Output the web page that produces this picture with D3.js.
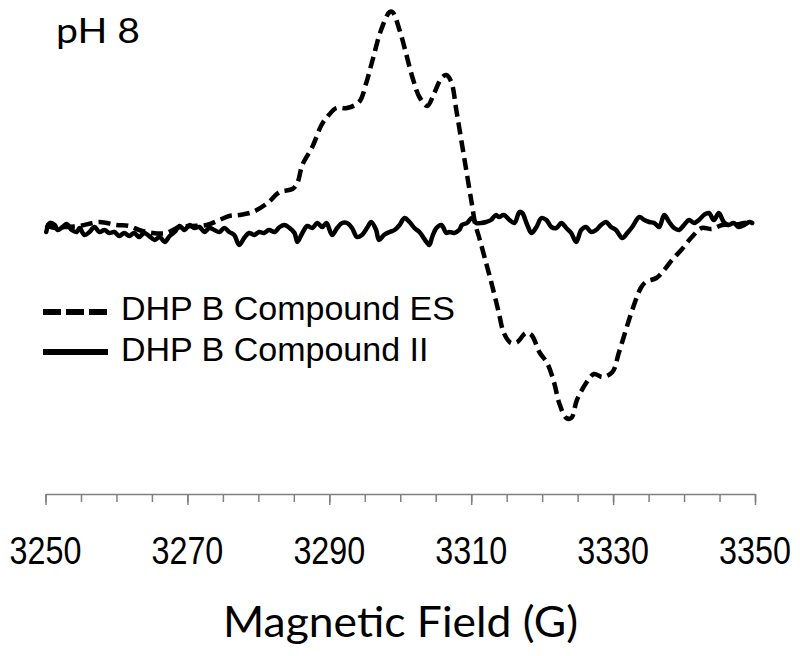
<!DOCTYPE html>
<html>
<head>
<meta charset="utf-8">
<script src="https://cdn.jsdelivr.net/npm/d3@7"></script>
<style>
  html, body { margin: 0; padding: 0; background: #fff; }
  svg { display: block; }
</style>
</head>
<body>
<svg id="chart" width="800" height="656"></svg>
<script>
// ---- data ----
const fieldES = [3250.0,3251.3,3252.7,3254.8,3257.6,3260.0,3261.8,3263.2,3265.1,3267.0,3268.9,3270.7,3272.7,3274.5,3275.9,3277.3,3279.2,3281.3,3283.0,3284.8,3285.5,3286.2,3287.6,3288.9,3289.6,3291.0,3292.5,3294.2,3295.2,3296.1,3297.3,3298.5,3298.9,3299.9,3300.8,3301.7,3302.7,3303.8,3304.8,3305.8,3306.5,3307.2,3307.9,3308.6,3309.3,3310.0,3310.6,3311.1,3312.1,3313.0,3313.9,3314.6,3315.6,3316.5,3317.7,3318.5,3319.6,3320.7,3321.7,3322.4,3323.4,3324.1,3324.9,3326.2,3327.3,3328.5,3329.9,3330.8,3331.8,3332.7,3333.9,3334.6,3336.1,3337.2,3338.3,3339.6,3341.1,3342.5,3343.9,3345.4,3347.0,3348.5,3349.4];
const signalES = [3,0,1,2,6,3,2,-2,-5,-5,1,2,3,8,12,13,16,25,36,39,45,63,81,103,110,120,120,126,145,168,198,216,216,198,175,151,131,122,135,150,153,146,118,88,58,28,3,-9,-35,-59,-85,-105,-115,-114,-105,-107,-124,-135,-155,-175,-190,-190,-172,-155,-146,-149,-144,-125,-102,-82,-60,-54,-50,-42,-32,-22,-9,0,-1,3,3,5,6];

const fieldII = [3250.1,3250.6,3251.3,3251.7,3252.4,3253.0,3253.7,3254.4,3254.8,3255.5,3256.2,3256.9,3257.6,3258.3,3259.0,3259.7,3260.4,3261.1,3261.8,3262.5,3263.2,3263.9,3264.6,3265.4,3266.1,3266.8,3267.5,3268.2,3268.9,3269.6,3270.3,3271.0,3271.7,3272.4,3273.1,3273.8,3274.5,3275.2,3275.9,3276.6,3277.3,3278.0,3278.7,3279.4,3280.1,3280.8,3281.5,3282.3,3283.0,3283.7,3284.4,3285.1,3285.5,3286.2,3286.9,3287.6,3288.3,3289.0,3289.6,3290.4,3291.1,3291.8,3292.5,3293.2,3293.9,3294.6,3295.4,3295.9,3296.6,3297.0,3297.7,3298.5,3299.2,3299.9,3300.6,3301.3,3302.0,3302.7,3303.7,3304.1,3304.5,3305.1,3305.8,3306.5,3306.9,3307.6,3308.3,3308.7,3309.4,3310.1,3310.7,3311.4,3312.1,3312.8,3313.5,3313.9,3314.6,3315.4,3316.1,3316.8,3317.2,3317.9,3318.5,3319.2,3319.9,3320.6,3321.3,3322.0,3322.7,3323.4,3324.1,3324.8,3325.5,3326.2,3326.9,3327.6,3328.3,3329.0,3329.7,3330.4,3331.3,3332.0,3332.7,3333.7,3334.4,3335.1,3335.8,3336.5,3337.2,3337.9,3338.6,3339.3,3340.0,3340.7,3341.4,3342.1,3342.8,3343.5,3344.2,3344.9,3345.6,3346.3,3347.0,3347.7,3348.5,3349.2,3349.6];
const signalII = [-4,5,3,-2,1,4,-2,-4,0,-7,-4,1,-4,-2,-5,-4,-8,-5,-8,-5,-9,-5,-8,-12,-9,-14,-8,-4,2,-2,3,0,1,-4,0,-2,-4,0,-4,-7,-17,-10,-5,-7,-4,-5,-2,-4,1,3,0,-5,-14,-5,2,0,5,1,5,-7,0,5,5,0,-9,-7,1,6,-2,-12,-7,-4,-2,3,10,6,0,-4,-14,-17,-9,0,3,-5,-4,-5,-2,3,5,10,5,5,6,8,13,11,13,8,5,16,15,3,-5,1,10,8,1,0,5,0,-5,-14,-2,1,-4,-2,3,6,1,-2,-10,-5,1,11,8,6,5,1,13,6,0,-2,3,8,5,8,13,15,8,15,6,3,5,1,3,6,5];

const seriesNames = ["DHP B Compound ES", "DHP B Compound II"];
const majorTicks = [3250, 3270, 3290, 3310, 3330, 3350];
const minorTicks = d3.range(3250, 3351, 5);
const panelLabel = "pH 8";
const xTitle = "Magnetic Field (G)";

// ---- drawing ----
const svg = d3.select("#chart");
const axisY = 494;

const x = d3.scaleLinear().domain([3250, 3350]).range([45.5, 755]);
const y = d3.scaleLinear().domain([-266, 228]).range([axisY, 0]);

const toPts = (xs, ys) => xs.map((v, i) => [v, ys[i]]);
const line = d3.line().x(d => x(d[0])).y(d => y(d[1])).curve(d3.curveCatmullRom.alpha(0.5));

// Compound II (solid)
svg.append("path")
  .attr("d", line(toPts(fieldII, signalII)))
  .attr("fill", "none").attr("stroke", "#000").attr("stroke-width", 4.5)
  .attr("stroke-linejoin", "round").attr("stroke-linecap", "round");

// Compound ES (dashed)
svg.append("path")
  .attr("d", line(toPts(fieldES, signalES)))
  .attr("fill", "none").attr("stroke", "#000").attr("stroke-width", 4.5)
  .attr("stroke-dasharray", "12,6").attr("stroke-linejoin", "round");

// x axis: minor ticks
const gMinor = svg.append("g").attr("transform", `translate(0,${axisY})`)
  .call(d3.axisBottom(x).tickValues(minorTicks).tickSize(8).tickFormat(""));
gMinor.select(".domain").remove();
gMinor.selectAll("line").attr("stroke", "#808080").attr("stroke-width", 1.5);

// x axis: major ticks (labels drawn separately, condensed)
const gMajor = svg.append("g").attr("transform", `translate(0,${axisY})`)
  .call(d3.axisBottom(x).tickValues(majorTicks).tickSize(11).tickSizeOuter(0).tickFormat(""));
gMajor.select(".domain").attr("stroke", "#808080").attr("stroke-width", 1.5);
gMajor.selectAll("line").attr("stroke", "#808080").attr("stroke-width", 1.5);

const fmt = d3.format("d");
svg.append("g").selectAll("text").data(majorTicks).join("text")
  .attr("transform", d => `translate(${x(d)},${axisY + 70}) scale(0.85,1)`)
  .attr("text-anchor", "middle")
  .attr("fill", "#000")
  .style("font-family", "'Liberation Sans', Arial, sans-serif")
  .style("font-size", "38px")
  .text(d => fmt(d));

// axis title
svg.append("text")
  .attr("x", 400.5).attr("y", 637)
  .attr("text-anchor", "middle")
  .style("font-family", "Lato, 'Open Sans', sans-serif")
  .style("font-size", "42px")
  .attr("textLength", 355).attr("lengthAdjust", "spacingAndGlyphs")
  .text(xTitle);

// panel label
svg.append("text")
  .attr("x", 56).attr("y", 43)
  .style("font-family", "Lato, 'Open Sans', sans-serif")
  .style("font-size", "35px")
  .attr("textLength", 84).attr("lengthAdjust", "spacingAndGlyphs")
  .text(panelLabel);

// legend
const legend = svg.append("g");
const legRows = [
  { name: seriesNames[0], dash: "18,5", ly: 312, ty: 320 },
  { name: seriesNames[1], dash: null, ly: 352, ty: 361 }
];
legRows.forEach(r => {
  legend.append("line")
    .attr("x1", 43).attr("x2", 108).attr("y1", r.ly).attr("y2", r.ly)
    .attr("stroke", "#000").attr("stroke-width", 6)
    .attr("stroke-dasharray", r.dash);
  legend.append("text")
    .attr("x", 121).attr("y", r.ty)
    .style("font-family", "'Liberation Sans', Arial, sans-serif")
    .style("font-size", "34px")
    .text(r.name);
});
</script>
</body>
</html>
